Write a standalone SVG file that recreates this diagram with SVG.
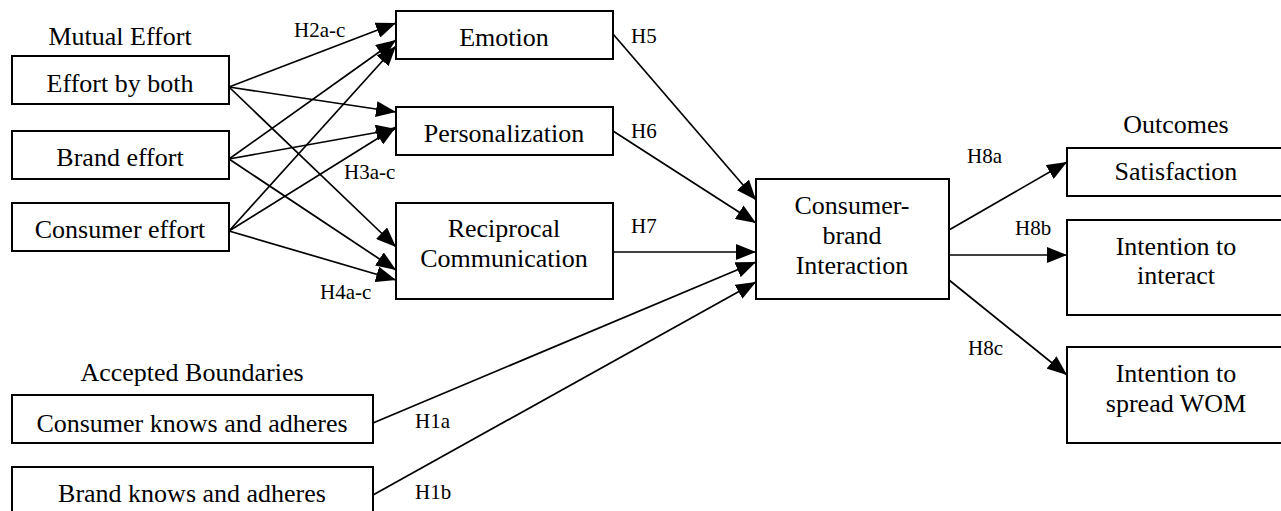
<svg xmlns="http://www.w3.org/2000/svg" width="1281" height="511" viewBox="0 0 1281 511">
<style>
.box{fill:#fff;stroke:#000;stroke-width:2}
.t{font-family:"Liberation Serif","Times New Roman",serif;font-size:26px;fill:#000;text-anchor:middle}
.l{font-family:"Liberation Serif","Times New Roman",serif;font-size:21px;fill:#000}
.c{stroke:#000;stroke-width:1.7;fill:none;marker-end:url(#ah)}
.n{stroke:#000;stroke-width:1.7;fill:none}
</style>
<defs>
<marker id="ah" markerUnits="userSpaceOnUse" markerWidth="21" markerHeight="16" refX="20" refY="8" orient="auto">
<path d="M0,0 L20,8 L0,16 z" fill="#000"/>
</marker>
</defs>
<rect width="1281" height="511" fill="#fff"/>
<g id="headings">
<text class="t" x="120" y="45">Mutual Effort</text>
<text class="t" x="192" y="381">Accepted Boundaries</text>
<text class="t" x="1176" y="133">Outcomes</text>
</g>
<g id="connectors">
<line class="c" x1="229" y1="87" x2="396" y2="23"/>
<line class="c" x1="229" y1="159" x2="396" y2="40"/>
<line class="c" x1="229" y1="231" x2="396" y2="46"/>
<line class="c" x1="229" y1="87" x2="396" y2="112"/>
<line class="c" x1="229" y1="159" x2="396" y2="129"/>
<line class="c" x1="229" y1="231" x2="396" y2="127"/>
<line class="c" x1="229" y1="87" x2="396" y2="247"/>
<line class="c" x1="229" y1="159" x2="396" y2="270"/>
<line class="c" x1="229" y1="231" x2="396" y2="280"/>
<line class="c" x1="613" y1="34" x2="756" y2="200"/>
<line class="c" x1="613" y1="131" x2="756" y2="223"/>
<line class="c" x1="613" y1="252" x2="756" y2="252"/>
<line class="c" x1="373" y1="423" x2="756" y2="262"/>
<line class="c" x1="373" y1="495" x2="756" y2="282"/>
<line class="c" x1="949" y1="230" x2="1067" y2="162"/>
<line class="c" x1="949" y1="255" x2="1067" y2="255"/>
<line class="c" x1="949" y1="280" x2="1067" y2="375"/>
</g>
<g id="labels">
<text class="l" x="294" y="37">H2a-c</text>
<text class="l" x="344" y="179">H3a-c</text>
<text class="l" x="320" y="299">H4a-c</text>
<text class="l" x="631" y="43">H5</text>
<text class="l" x="631" y="138">H6</text>
<text class="l" x="631" y="233">H7</text>
<text class="l" x="415" y="428">H1a</text>
<text class="l" x="415" y="499">H1b</text>
<text class="l" x="967" y="163">H8a</text>
<text class="l" x="1015" y="235">H8b</text>
<text class="l" x="968" y="355">H8c</text>
</g>
<g id="effort-by-both"><rect class="box" x="12" y="56" width="217" height="48"/><text class="t" x="120" y="92">Effort by both</text></g>
<g id="brand-effort"><rect class="box" x="12" y="131" width="217" height="48"/><text class="t" x="120" y="166">Brand effort</text></g>
<g id="consumer-effort"><rect class="box" x="12" y="203" width="217" height="48"/><text class="t" x="120" y="238">Consumer effort</text></g>
<g id="consumer-knows"><rect class="box" x="12" y="395" width="361" height="48"/><text class="t" x="192" y="432">Consumer knows and adheres</text></g>
<g id="brand-knows"><rect class="box" x="12" y="467" width="361" height="60"/><text class="t" x="192" y="502">Brand knows and adheres</text></g>
<g id="emotion"><rect class="box" x="396" y="11" width="217" height="48"/><text class="t" x="504" y="46">Emotion</text></g>
<g id="personalization"><rect class="box" x="396" y="107" width="217" height="48"/><text class="t" x="504" y="142">Personalization</text></g>
<g id="reciprocal"><rect class="box" x="396" y="203" width="217" height="96"/><text class="t" x="504" y="237">Reciprocal</text><text class="t" x="504" y="267">Communication</text></g>
<g id="interaction"><rect class="box" x="756" y="179" width="193" height="120"/><text class="t" x="852" y="214">Consumer-</text><text class="t" x="852" y="244">brand</text><text class="t" x="852" y="274">Interaction</text></g>
<g id="satisfaction"><rect class="box" x="1067" y="148" width="230" height="48"/><text class="t" x="1176" y="180">Satisfaction</text></g>
<g id="intention-interact"><rect class="box" x="1067" y="220" width="230" height="95"/><text class="t" x="1176" y="255">Intention to</text><text class="t" x="1176" y="284">interact</text></g>
<g id="intention-wom"><rect class="box" x="1067" y="347" width="230" height="96"/><text class="t" x="1176" y="382">Intention to</text><text class="t" x="1176" y="412">spread WOM</text></g>
</svg>
